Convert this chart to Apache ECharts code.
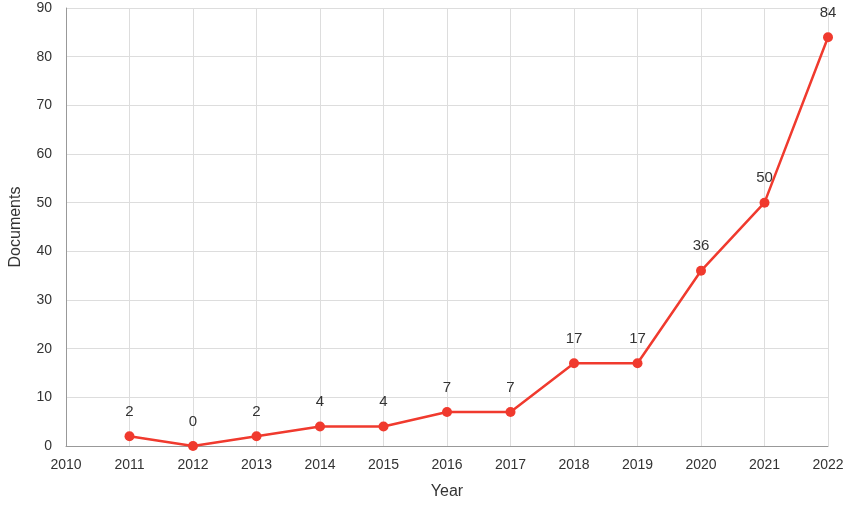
<!DOCTYPE html>
<html><head><meta charset="utf-8">
<script src="https://cdn.jsdelivr.net/npm/echarts@6/dist/echarts.min.js"></script>
<style>html,body{margin:0;padding:0;background:#fff}#c{width:849px;height:509px}</style>
</head><body><div id="c"></div>
<script>
const years = [2011,2012,2013,2014,2015,2016,2017,2018,2019,2020,2021,2022];
const documents = [2,0,2,4,4,7,7,17,17,36,50,84];
const chart = echarts.init(document.getElementById('c'));
chart.setOption({
  animation:false,
  grid:{left:60,right:21,top:8,bottom:63},
  xAxis:{type:'value',min:2010,max:2022,interval:1,name:'Year',nameLocation:'middle',nameGap:38,
    nameTextStyle:{fontSize:16,color:'#333',fontFamily:'Arial'},
    axisLine:{lineStyle:{color:'#999'}},axisTick:{show:false},
    axisLabel:{color:'#333',fontSize:14,fontFamily:'Arial',margin:12,formatter:v=>String(v)},
    splitLine:{show:true,lineStyle:{color:'#ddd'}}},
  yAxis:{type:'value',min:0,max:90,interval:10,name:'Documents',nameLocation:'middle',nameGap:42,
    nameTextStyle:{fontSize:16,color:'#333',fontFamily:'Arial'},
    axisLine:{show:true,lineStyle:{color:'#999'}},axisTick:{show:false},
    axisLabel:{color:'#333',fontSize:14,fontFamily:'Arial',margin:14},
    splitLine:{lineStyle:{color:'#ddd'}}},
  series:[{type:'line',data:years.map((y,i)=>[y,documents[i]]),
    color:'#f03a2e',lineStyle:{width:2.5},symbol:'circle',symbolSize:10,
    label:{show:true,position:'top',distance:12,color:'#333',fontSize:15,fontFamily:'Arial',formatter:p=>p.value[1]}}]
});
</script></body></html>
